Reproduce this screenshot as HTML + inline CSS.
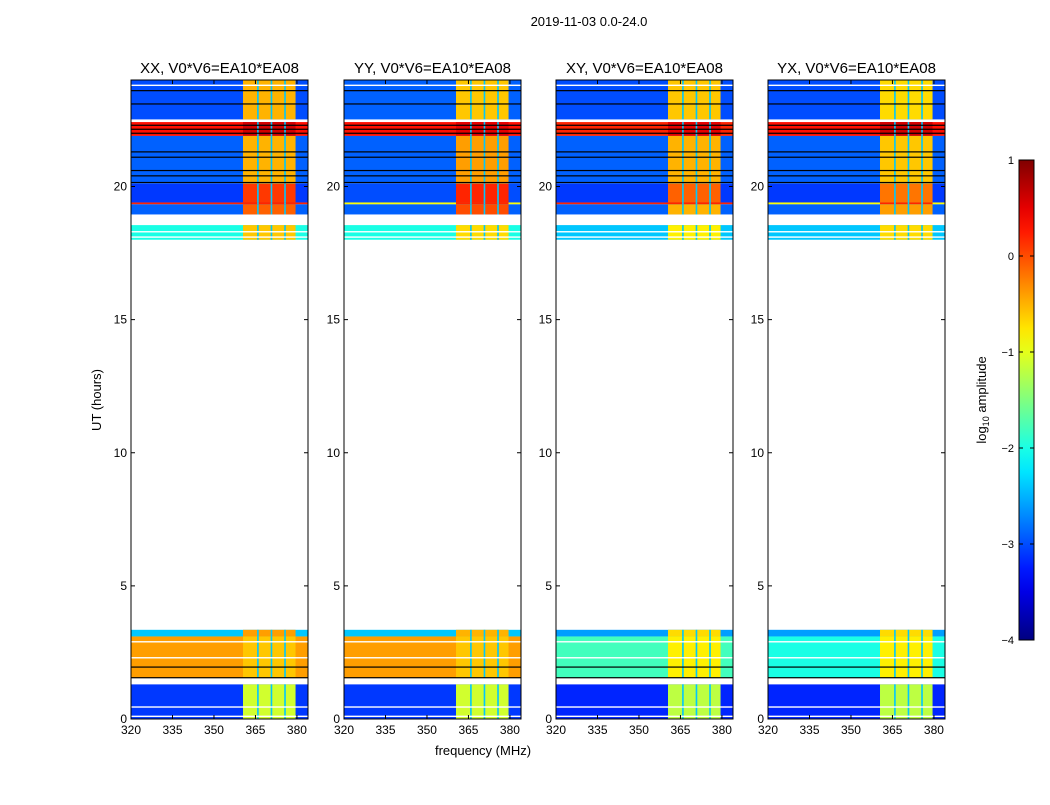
<!DOCTYPE html>
<html><head><meta charset="utf-8"><style>
body{margin:0;background:#fff;width:1050px;height:800px;overflow:hidden}
svg text{font-family:"Liberation Sans",sans-serif;fill:#000}
</style></head><body>
<svg id="fig" width="1050" height="800" xmlns="http://www.w3.org/2000/svg">
<text x="589" y="26" font-size="13" text-anchor="middle">2019-11-03 0.0-24.0</text>
<text x="0" y="0" font-size="13" text-anchor="middle" transform="translate(101,400) rotate(-90)">UT (hours)</text>
<text x="483" y="755" font-size="13" text-anchor="middle">frequency (MHz)</text>
<g id="panels"></g>
<g id="cbar"></g>
</svg>
<script>
const panelNames = ["XX","YY","XY","YX"];
const bandStart = [22.52, 21.9, 20.1, 19.4, 19.33, 18.95, 18.0, 3.1, 1.55, 0.0];
const bandEnd   = [24.0, 22.42, 21.9, 20.1, 19.4, 19.33, 18.55, 3.35, 3.1, 1.3];
const bgXX = [-3.0, 0.3, -2.9, -3.1, 0.2, -2.9, -2.0, -2.4, -0.4, -3.1];
const hiXX = [-0.5, 0.6, -0.5, 0.1, 0.2, -0.1, -0.6, -0.4, -0.6, -1.1];
const bgYY = [-2.9, 0.3, -2.9, -3.0, -0.9, -2.9, -2.0, -2.4, -0.4, -3.1];
const hiYY = [-0.6, 0.5, -0.4, 0.2, 0.2, 0.0, -0.7, -0.5, -0.6, -1.1];
const bgXY = [-3.0, 0.2, -2.9, -3.1, 0.2, -2.9, -2.4, -2.6, -1.8, -3.2];
const hiXY = [-0.6, 0.5, -0.5, -0.1, 0.2, -0.5, -0.8, -0.7, -0.8, -1.2];
const bgYX = [-3.0, 0.3, -2.9, -3.1, -0.9, -2.9, -2.4, -2.6, -2.0, -3.2];
const hiYX = [-0.7, 0.6, -0.6, -0.2, 0.2, -0.4, -0.7, -0.7, -0.8, -1.2];
const bgByPanel = [bgXX,bgYY,bgXY,bgYX];
const hiByPanel = [hiXX,hiYY,hiXY,hiYX];
const hiStart = 360.5, hiEnd = 379.5;
const sepFreqs = [365.6, 370.5, 375.4];
const sepValue = -2.4;
const blackLines = [23.6,23.1,22.3,22.15,22.0,21.3,21.1,20.6,20.4,20.15,1.95,1.55];
const whiteLines = [23.8,18.3,18.1,2.9,2.3,0.45,0.1];
const xTicks = [320,335,350,365,380];
const yTicks = [0,5,10,15,20];
const cbTicks = [1,0,-1,-2,-3,-4];
const panelLeft = [131,344,556,768];
(function(){
const NS="http://www.w3.org/2000/svg";
function jet(v){const x=Math.max(0,Math.min(1,(v+4)/5));
 const c=t=>Math.round(255*Math.max(0,Math.min(1,1.5-Math.abs(4*x-t))));
 return `rgb(${c(3)},${c(2)},${c(1)})`;}
function el(tag,attrs,parent){const e=document.createElementNS(NS,tag);for(const k in attrs)e.setAttribute(k,attrs[k]);parent.appendChild(e);return e;}
const W=177, pTop=80, pBot=719;
const yS=h=>pBot-(h/24)*(pBot-pTop);
const panels=document.getElementById('panels');
panelNames.forEach((nm,p)=>{
 const L=panelLeft[p];
 const xS=f=>L+(f-320)/64*W;
 const g=el('g',{},panels);
 
 
 bandStart.forEach((s,i)=>{
  const y1=yS(bandEnd[i]), y2=yS(s);
  const r=el('rect',{x:L,y:y1,width:W,height:y2-y1,fill:jet(bgByPanel[p][i])},g);
  
  
  const h=el('rect',{x:xS(hiStart),y:y1,width:xS(hiEnd)-xS(hiStart),height:y2-y1,fill:jet(hiByPanel[p][i])},g);
  
  
  sepFreqs.forEach(f=>{
   const q=el('rect',{x:xS(f),y:y1,width:1.6,height:y2-y1,fill:jet(sepValue)},g);
   
   
  });
 });
 whiteLines.forEach(h=>{const l=el('rect',{x:L,y:yS(h)-0.7,width:W,height:1.4,fill:'#fff'},g);
  
  });
 blackLines.forEach(h=>{const l=el('rect',{x:L,y:yS(h)-0.6,width:W,height:1.2,fill:'#000'},g);
  
  });
 const fr=el('rect',{x:L,y:pTop,width:W,height:pBot-pTop,fill:'none',stroke:'#000','stroke-width':1},g);
 
 
 const t=el('text',{x:L+W/2,y:73,'font-size':15,'text-anchor':'middle'},g);
 t.textContent=nm+', V0*V6=EA10*EA08';
 
 
 xTicks.forEach(v=>{const x=xS(v);
  el('line',{x1:x,x2:x,y1:pBot,y2:pBot-4,stroke:'#000'},g);
  el('line',{x1:x,x2:x,y1:pTop,y2:pTop+4,stroke:'#000'},g);
  const tx=el('text',{x:x,y:pBot+15,'font-size':12,'text-anchor':'middle'},g);
  tx.textContent=v;
  
  });
 yTicks.forEach(v=>{const y=yS(v);
  el('line',{x1:L,x2:L+4,y1:y,y2:y,stroke:'#000'},g);
  el('line',{x1:L+W,x2:L+W-4,y1:y,y2:y,stroke:'#000'},g);
  const ty=el('text',{x:L-4,y:y+4,'font-size':12,'text-anchor':'end'},g);
  ty.textContent=v;
  
  });
});
const cb=document.getElementById('cbar');
const cbX=1019,cbW=15,cbT=160,cbB=640;
const defs=el('defs',{},cb);
const grad=el('linearGradient',{id:'jetg',x1:0,y1:1,x2:0,y2:0},defs);
for(let i=0;i<=20;i++){el('stop',{offset:i/20,'stop-color':jet(-4+5*i/20)},grad);}
el('rect',{x:cbX,y:cbT,width:cbW,height:cbB-cbT,fill:'url(#jetg)',stroke:'#000','stroke-width':1},cb);
const cbS=v=>cbB-(v+4)/5*(cbB-cbT);
cbTicks.forEach(v=>{const y=cbS(v);
 el('line',{x1:cbX,x2:cbX+4,y1:y,y2:y,stroke:'#000'},cb);
 el('line',{x1:cbX+cbW,x2:cbX+cbW-4,y1:y,y2:y,stroke:'#000'},cb);
 const t=el('text',{x:1014,y:y+4,'font-size':11,'text-anchor':'end'},cb);
 t.textContent=(v<0?'\u2212'+(-v):v);
 
 });
const lab=el('text',{x:0,y:0,'font-size':13,'text-anchor':'middle',transform:'translate(986,400) rotate(-90)'},cb);
lab.innerHTML='log<tspan font-size="9" dy="3">10</tspan><tspan dy="-3"> amplitude</tspan>';


})();
</script>
</body></html>
